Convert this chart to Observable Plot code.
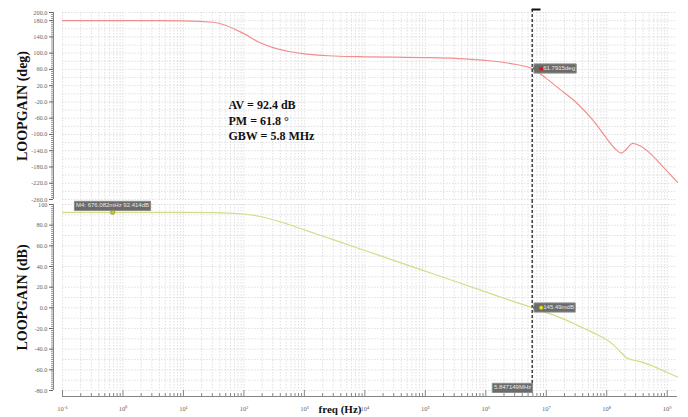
<!DOCTYPE html>
<html>
<head>
<meta charset="utf-8">
<script src="https://cdn.jsdelivr.net/npm/d3@7"></script>
<script src="https://cdn.jsdelivr.net/npm/@observablehq/plot@0.6"></script>
<style>
  body { margin: 0; background: #fff; }
  #chart { position: relative; width: 688px; height: 417px; overflow: hidden; background: #fff; }
  #chart > svg { position: absolute; left: 0; overflow: visible; }
  #chart g[aria-label="tip"] text { fill: #e8e8e8; }
</style>
</head>
<body>
<div id="chart"></div>
<script>
// Loop-gain Bode plot: phase (top panel) and magnitude (bottom panel) on a shared log-frequency axis.

const freqHz = [0.1, 1, 10, 31.6, 100, 178, 316, 562, 1e3, 3.16e3, 1e4, 3.16e4, 1e5, 3.16e5, 1e6,
  2.0e6, 3.16e6, 5.85e6, 1e7, 1.58e7, 3.16e7, 5.9e7, 1e8, 1.41e8, 1.74e8, 2.09e8, 2.69e8, 3.55e8,
  5.0e8, 8.7e8, 1.48e9];
const phaseDeg = [180, 180, 179.5, 176, 148, 127, 113, 104, 98, 93, 91, 90, 89, 87, 82,
  77, 72, 61.8, 38, 14, -22, -65, -110, -137, -146, -137, -122, -128,
  -144, -181, -218];
const gainDb = [92.4, 92.4, 92.4, 92.2, 90.8, 88.6, 85.0, 80.4, 75.4, 65.5, 55.5, 45.5, 35.5, 25.5, 15.4,
  9.3, 5.3, 0.15, -4.6, -8.8, -16.5, -24, -31, -38, -43.5, -48, -50.5, -52,
  -55, -61, -67];

const decadeExponents = [-1, 0, 1, 2, 3, 4, 5, 6, 7, 8, 9];
const phaseTickValues = [200, 180, 140, 100, 60, 20, -20, -60, -100, -140, -180, -220, -260];
const gainTickValues = [100, 80, 60, 40, 20, 0, -20, -40, -60, -80];
const gainTickLabels = ["100", "80.0", "60.0", "40.0", "20.0", "0.0", "-20.0", "-40.0", "-60.0", "-80.0"];

const summaryLines = ["AV = 92.4 dB", "PM = 61.8 °", "GBW = 5.8 MHz"];
const marker = {name: "M4", freq: 0.676082, gain: 92.414};
const cursor = {freq: 5.847149e6, phase: 61.7915, gain: 0.14549};

// shared layout
const W = 688, mL = 62, mR = 11;
const frameW = W - mL - mR;
const xDomain = [0.1, 10 ** 9.17];
const serif = "'Liberation Serif', 'Times New Roman', serif";
const sans = "'Liberation Sans', Arial, sans-serif";
const gridColor = "#d8d8d8";
const gridDash = "1.5,1.5";
const axisColor = "#666";
const phaseColor = "#f28e8e";
const gainColor = "#d6db88";

const rows = freqHz.map((f, i) => ({f, phase: phaseDeg[i], gain: gainDb[i]}));
const gridFreqs = decadeExponents.flatMap(e => e < 9 ? d3.range(1, 10).map(m => m * 10 ** e) : [10 ** e]);
const decadeFreqs = decadeExponents.map(e => 10 ** e);
const minorFreqs = gridFreqs.filter(f => Math.abs(Math.log10(f) - Math.round(Math.log10(f))) > 1e-6);
const sup = {"-": "\u207B", "0": "\u2070", "1": "\u00B9", "2": "\u00B2", "3": "\u00B3", "4": "\u2074",
  "5": "\u2075", "6": "\u2076", "7": "\u2077", "8": "\u2078", "9": "\u2079"};
const powerLabel = v => "10" + String(Math.round(Math.log10(v))).split("").map(c => sup[c]).join("");
const gainLabelMap = new Map(gainTickValues.map((v, i) => [v, gainTickLabels[i]]));

const tipStyle = {fill: "#6b6b6b", stroke: "#8d8d8d", fontSize: 6, fontFamily: sans,
  textPadding: 1.6, pathFilter: "none"};

// y-axis: vertical line offset left of the frame, minor ticks, labelled major ticks
function leftAxis(minorValues, majorValues, format) {
  return [
    Plot.ruleX([xDomain[0]], {dx: -9, stroke: axisColor, strokeWidth: 0.8}),
    Plot.tickY(minorValues, {insetRight: frameW - 2, dx: -11, stroke: axisColor, strokeWidth: 0.7}),
    Plot.axisY(majorValues, {anchor: "left", dx: -9, tickSize: 4, tickPadding: 2, tickFormat: format,
      color: axisColor, fontSize: 6.3, fontFamily: serif, label: null})
  ];
}

function panelTitle(text) {
  return Plot.text([text], {frameAnchor: "left", dx: -40, rotate: -90, textAnchor: "middle",
    fontSize: 14, fontWeight: "bold", fontFamily: serif, fill: "#111"});
}

// ---- phase panel (svg runs a few pixels past its frame so the lowest label is not cut) ----
const phaseMin = d3.min(phaseTickValues), phaseMax = d3.max(phaseTickValues);
const phasePanel = Plot.plot({
  width: W, height: 206, marginLeft: mL, marginRight: mR, marginTop: 12, marginBottom: 7,
  style: {fontFamily: serif, background: "#fff", overflow: "visible"},
  x: {type: "log", domain: xDomain, axis: null},
  y: {domain: [phaseMin, phaseMax], axis: null},
  marks: [
    Plot.ruleX(gridFreqs, {stroke: gridColor, strokeDasharray: gridDash, strokeWidth: 0.8}),
    Plot.ruleY(d3.range(phaseMin, phaseMax + 1, 20), {stroke: gridColor, strokeDasharray: gridDash, strokeWidth: 0.8}),
    ...leftAxis(d3.range(phaseMin, phaseMax + 1, 5), phaseTickValues, d => d.toFixed(1)),
    Plot.line(rows, {x: "f", y: "phase", stroke: phaseColor, strokeWidth: 1.2, curve: "monotone-x"}),
    Plot.ruleX([cursor.freq], {stroke: "#222", strokeWidth: 1.3, strokeDasharray: "3,2", insetTop: -3, insetBottom: -1}),
    Plot.ruleY([cursor], {x1: d => d.freq, x2: d => d.freq * 1.4, y: () => phaseMax, dy: -3, stroke: "#111", strokeWidth: 2}),
    Plot.tip([cursor], {x: "freq", y: "phase", title: d => "\u2003 " + d.phase + "deg", anchor: "left", pointerSize: 3, ...tipStyle}),
    Plot.dot([cursor], {x: "freq", y: "phase", dx: 9, r: 2, fill: "#e3101c"}),
    Plot.text([summaryLines.join("\n")], {frameAnchor: "top-left", dx: 166, dy: 86, textAnchor: "start", lineAnchor: "top",
      lineHeight: 1.28, fontSize: 12, fontWeight: "bold", fontFamily: serif, fill: "#111"}),
    panelTitle("LOOPGAIN (deg)")
  ]
});
phasePanel.style.top = "0px";

// ---- magnitude panel (transparent, drawn over the phase panel's lower edge) ----
const gainMin = d3.min(gainTickValues), gainMax = d3.max(gainTickValues);
const gainPanel = Plot.plot({
  width: W, height: 217, marginLeft: mL, marginRight: mR, marginTop: 4, marginBottom: 27,
  style: {fontFamily: serif, background: "transparent", overflow: "visible"},
  x: {type: "log", domain: xDomain, axis: null},
  y: {domain: [gainMin, gainMax], axis: null},
  marks: [
    Plot.ruleX(gridFreqs, {stroke: gridColor, strokeDasharray: gridDash, strokeWidth: 0.8}),
    Plot.ruleY(d3.range(gainMin, gainMax + 1, 10), {stroke: gridColor, strokeDasharray: gridDash, strokeWidth: 0.8}),
    ...leftAxis(d3.range(gainMin, gainMax + 1, 2), gainTickValues, d => gainLabelMap.get(d)),
    // frequency axis, ticks pointing up from a baseline just under the panel
    Plot.ruleY([gainMin], {dy: 6, stroke: axisColor, strokeWidth: 0.8}),
    Plot.tickX(minorFreqs, {insetTop: 183, dy: 6, stroke: axisColor, strokeWidth: 0.8}),
    Plot.tickX(decadeFreqs, {insetTop: 180, dy: 6, stroke: axisColor, strokeWidth: 0.8}),
    Plot.axisX(decadeFreqs, {anchor: "bottom", dy: 6, tickSize: 0, tickPadding: 10, tickFormat: powerLabel,
      color: axisColor, fontSize: 6.5, fontFamily: serif, label: null}),
    Plot.text(["freq (Hz)"], {frameAnchor: "bottom", dx: -30, dy: 22, fontSize: 11, fontWeight: "bold", fontFamily: serif, fill: "#111"}),
    Plot.line(rows, {x: "f", y: "gain", stroke: gainColor, strokeWidth: 1.2, curve: "monotone-x"}),
    Plot.ruleX([cursor.freq], {stroke: "#222", strokeWidth: 1.3, strokeDasharray: "3,2", insetTop: -4, insetBottom: -5}),
    Plot.tip([marker], {x: "freq", y: "gain", title: d => `${d.name}: ${(d.freq * 1000).toFixed(3)}mHz ${d.gain.toFixed(3)}dB`,
      anchor: "bottom", pointerSize: 4, ...tipStyle}),
    Plot.dot([marker], {x: "freq", y: "gain", r: 2.2, fill: "#c3c63a", stroke: "#8a8c22", strokeWidth: 0.6}),
    Plot.tip([cursor], {x: "freq", y: "gain", title: d => "\u2003 " + (d.gain * 1000).toFixed(2) + "mdB", anchor: "left", pointerSize: 3, ...tipStyle}),
    Plot.dot([cursor], {x: "freq", y: "gain", dx: 9, r: 2, fill: "#e6e31a", stroke: "#9a9812", strokeWidth: 0.5}),
    Plot.tip([cursor], {x: "freq", y: () => gainMin, dy: 2, title: d => (d.freq / 1e6).toFixed(6) + "MHz", anchor: "bottom-right", pointerSize: 0, ...tipStyle}),
    panelTitle("LOOPGAIN (dB)")
  ]
});
gainPanel.style.top = "200px";

document.getElementById("chart").append(phasePanel, gainPanel);
</script>
</body>
</html>
